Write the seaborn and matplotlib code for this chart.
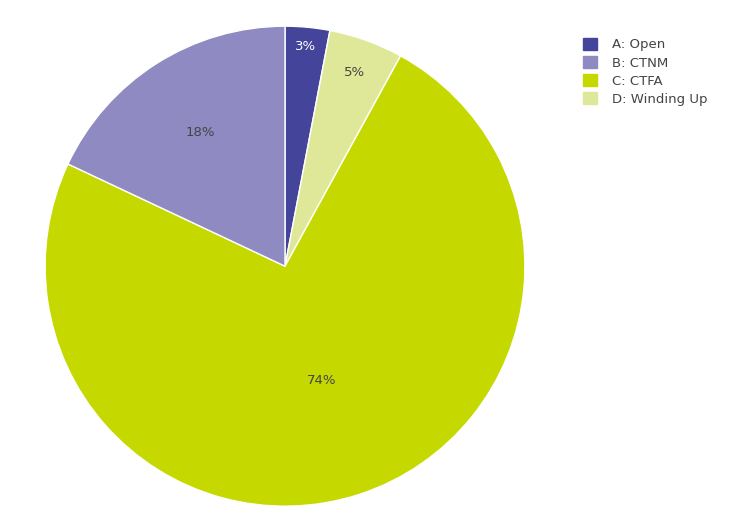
import matplotlib
matplotlib.use("Agg")
import matplotlib.pyplot as plt
import seaborn as sns
import numpy as np

sns.set_theme(style="white")
plt.rcParams['font.family'] = ['DejaVu Sans']

categories = ["A: Open", "B: CTNM", "C: CTFA", "D: Winding Up"]
values = [3, 18, 74, 5]
colors = ["#44449a", "#8f8ac2", "#c5d900", "#dfe899"]
# drawing order clockwise from top
order = [0, 3, 2, 1]
label_dist = {0: 0.92, 3: 0.86, 2: 0.5, 1: 0.66}
text_colors = {0: "white", 3: "#444444", 2: "#444444", 1: "#444444"}

fig = plt.figure(figsize=(7.52, 5.24), dpi=100)
ax = fig.add_axes([0.060, 0.034, 0.638, 0.916])
wedges, texts = ax.pie([values[i] for i in order], colors=[colors[i] for i in order],
                       startangle=90, counterclock=False,
                       wedgeprops=dict(edgecolor="white", linewidth=1))
ax.set_aspect("auto")
total = sum(values)
for w, i in zip(wedges, order):
    ang = np.deg2rad((w.theta1 + w.theta2) / 2)
    r = label_dist[i]
    ax.text(r * np.cos(ang), r * np.sin(ang), f"{values[i]}%", ha="center", va="center",
            fontsize=9.5, color=text_colors[i])
ax.set_xlim(-1, 1); ax.set_ylim(-1, 1)
ax.axis("off")

handles = [plt.Rectangle((0, 0), 1, 1, color=colors[i]) for i in range(4)]
fig.legend(handles, categories, loc="upper left", bbox_to_anchor=(0.76, 0.95),
           frameon=False, fontsize=9.5, handlelength=1.0, handleheight=1.0,
           labelspacing=0.35, handletextpad=1.2, labelcolor="#444444")
fig.savefig("out.png", dpi=100)
